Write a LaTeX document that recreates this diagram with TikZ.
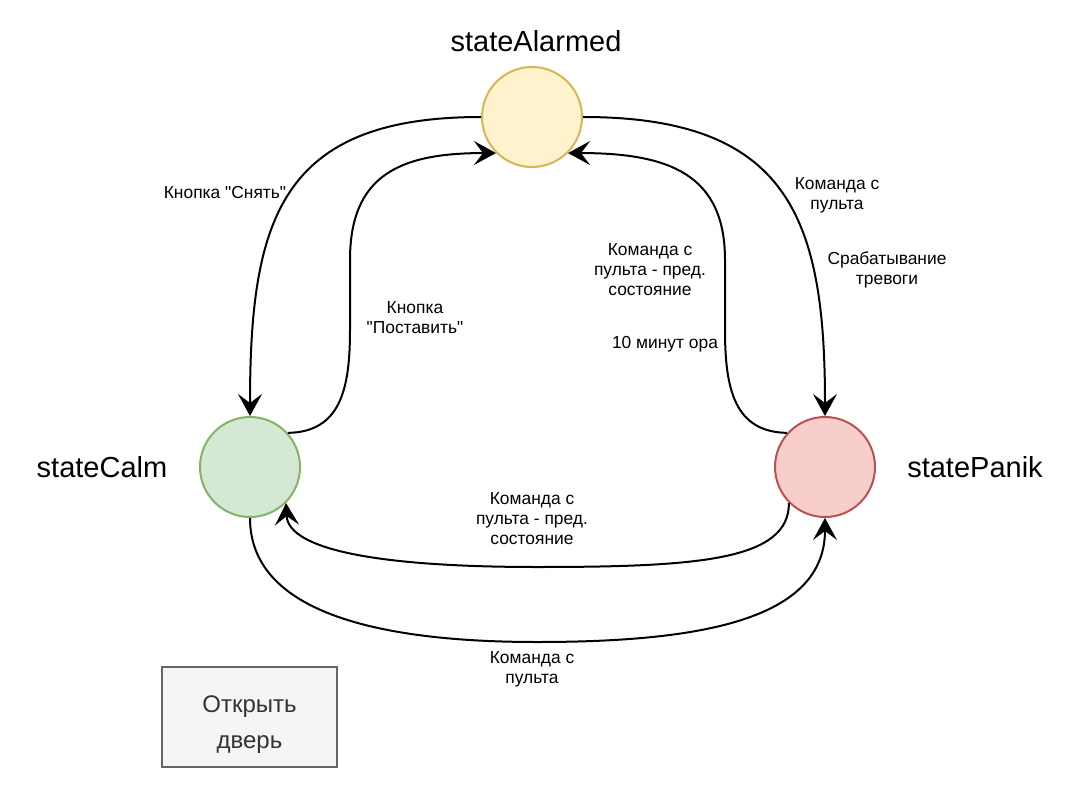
\documentclass[tikz,border=0pt]{standalone}
\usepackage{fontspec}
\setmainfont{Liberation Sans}[Ligatures=TeXOff]
\usetikzlibrary{arrows.meta}
\definecolor{alarmfill}{HTML}{FFF2CC}
\definecolor{alarmline}{HTML}{D6B656}
\definecolor{calmfill}{HTML}{D5E8D4}
\definecolor{calmline}{HTML}{82B366}
\definecolor{panikfill}{HTML}{F8CECC}
\definecolor{panikline}{HTML}{B85450}
\definecolor{boxfill}{HTML}{F5F5F5}
\definecolor{boxline}{HTML}{666666}
\definecolor{boxtext}{HTML}{333333}
\begin{document}
\begin{tikzpicture}[x=1pt,y=-1pt,
  statenode/.style={circle, minimum size=100pt, inner sep=0pt, line width=2pt},
  lbl/.style={font=\fontsize{17.4}{20}\selectfont, align=center, inner sep=0pt},
  titlelbl/.style={font=\fontsize{29}{34}\selectfont, inner sep=0pt, anchor=base},
  conn/.style={line width=2pt, -{Stealth[length=22pt,width=24pt,inset=9pt]}}]
\fill[white] (0,0) rectangle (1092,797);
\useasboundingbox (0,0) rectangle (1092,797);

% states
\node[statenode, draw=alarmline, fill=alarmfill] (alarmed) at (532,117) {};
\node[statenode, draw=calmline, fill=calmfill] (calm) at (250,467) {};
\node[statenode, draw=panikline, fill=panikfill] (panik) at (825,467) {};

% state titles
\node[titlelbl] (talarmed) at (536,52) {stateAlarmed};
\node[titlelbl] (tcalm) at (102,477) {stateCalm};
\node[titlelbl] (tpanik) at (975,477) {statePanik};

% door box
\node[draw=boxline, fill=boxfill, line width=2pt, minimum width=175pt, minimum height=100pt,
  inner sep=0pt] (door) at (249.5,717) {};
\node[text=boxtext, font=\fontsize{24}{36}\selectfont, align=center, inner sep=0pt]
  (doortext) at ([yshift=-8pt]door.center) {Открыть\\дверь};

% edges
\draw[conn] (alarmed.west) .. controls (280,117) and (250,220) .. (calm.north);
\draw[conn] (calm.42) .. controls (340,432) and (350,390) .. (350,330)
   -- (350,260) .. controls (350,175) and (400,153) .. (alarmed.225);
\draw[conn] (alarmed.east) .. controls (790,117) and (825,220) .. (panik.north);
\draw[conn] (panik.138) .. controls (735,432) and (725,390) .. (725,330)
   -- (725,260) .. controls (725,175) and (670,153) .. (alarmed.315);
\draw[conn] (panik.225) .. controls (789,560) and (700,567) .. (537,567)
   .. controls (380,567) and (288,550) .. (calm.315);
\draw[conn] (calm.south) .. controls (250,620) and (400,642) .. (537,642)
   .. controls (700,642) and (825,620) .. (panik.south);

% labels
\node[lbl] (l1) at (225,193) {Кнопка "Снять"};
\node[lbl] (l2) at (415,318) {Кнопка\\"Поставить"};
\node[lbl] (l3) at (837,195) {Команда с\\пульта};
\node[lbl] (l4) at (887,270) {Срабатывание\\тревоги};
\node[lbl] (l5) at (650,270) {Команда с\\пульта - пред.\\состояние};
\node[lbl] (l6) at (665,344) {10 минут ора};
\node[lbl] (l7) at (532,519) {Команда с\\пульта - пред.\\состояние};
\node[lbl] (l8) at (532,669) {Команда с\\пульта};
\end{tikzpicture}
\end{document}
